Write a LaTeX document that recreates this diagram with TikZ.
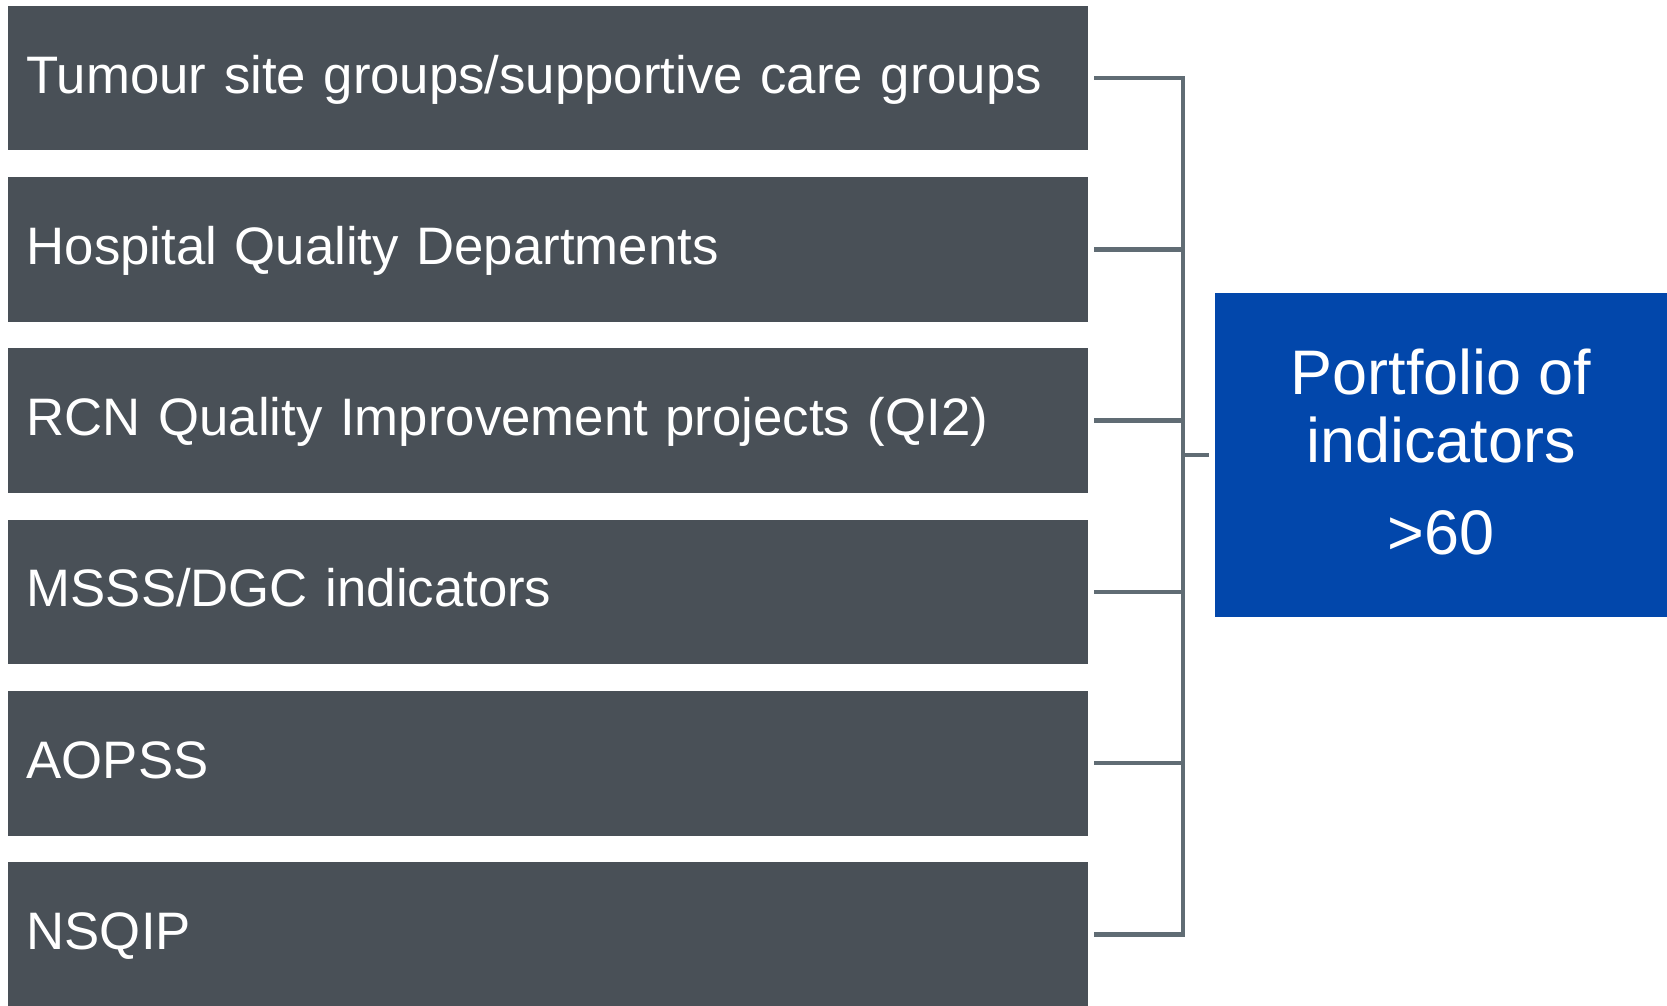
\documentclass[tikz,border=0pt]{standalone}
\usepackage{fontspec}
\setmainfont{Liberation Sans}
\usetikzlibrary{positioning}

\definecolor{slate}{RGB}{73,80,87}
\definecolor{linkgrey}{RGB}{96,108,116}
\definecolor{cobalt}{RGB}{2,71,171}

\begin{document}
\begin{tikzpicture}[
    x=0.01cm, y=-0.01cm,
    source/.style={fill=slate, text=white, minimum height=1.445cm, text width=10.42cm,
        inner xsep=0.19cm, text height=0.38cm, text depth=0.08cm, align=left,
        font=\fontsize{15}{18}\selectfont},
    result/.style={fill=cobalt, text=white, minimum width=4.52cm, minimum height=3.24cm,
        align=center, font=\fontsize{17.9}{19.4}\selectfont},
    link/.style={draw=linkgrey, line width=1.25pt}
]
    \useasboundingbox (0,0) rectangle (1667,1005);

    % Sources stacked down the left
    \foreach \txt [count=\i] in {Tumour site groups/supportive care groups,
            Hospital Quality Departments,
            RCN Quality Improvement projects (QI2),
            MSSS/DGC indicators,
            AOPSS,
            NSQIP}
        \node[source] (src\i) at (548, 78 + 171.3*\i - 171.3) {\txt};

    % Outcome box
    \coordinate (spine) at (1183, 455);
    \node[result] (port) at (1441, 455) {};
    \node[text=white, align=center, font=\fontsize{17.9}{19.4}\selectfont] (portlbl)
        at (1441, 452) {Portfolio of\\indicators\\[0.24cm]>60};

    % Bracket joining the sources
    \foreach \i in {1,...,6}
        \draw[link] ([xshift=0.05cm]src\i.east) -| (spine);
    \draw[link] (spine) -- ([xshift=-0.05cm]port.west);
\end{tikzpicture}
\end{document}
